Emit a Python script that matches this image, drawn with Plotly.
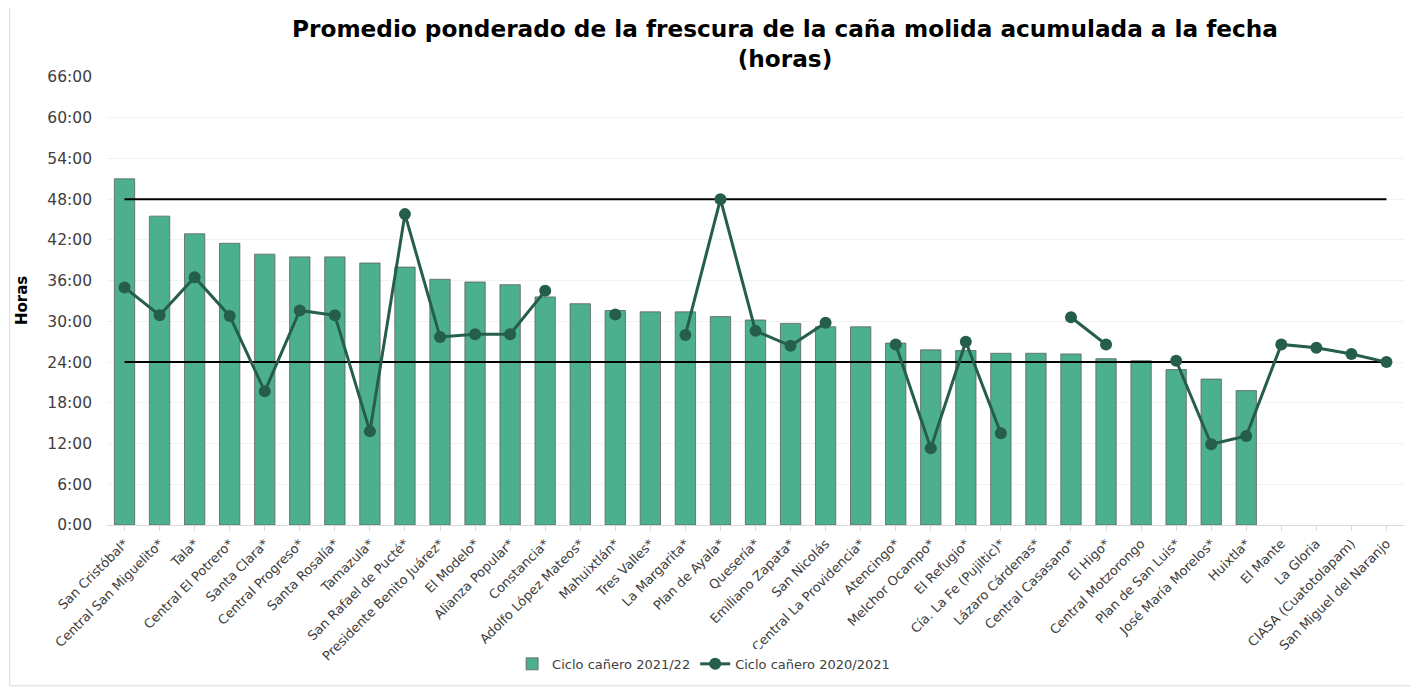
import plotly.graph_objects as go

ingenios = ['San Cristóbal*', 'Central San Miguelito*', 'Tala*', 'Central El Potrero*',
            'Santa Clara*', 'Central Progreso*', 'Santa Rosalía*', 'Tamazula*',
            'San Rafael de Pucté*', 'Presidente Benito Juárez*', 'El Modelo*',
            'Alianza Popular*', 'Constancia*', 'Adolfo López Mateos*', 'Mahuixtlán*',
            'Tres Valles*', 'La Margarita*', 'Plan de Ayala*', 'Quesería*',
            'Emiliano Zapata*', 'San Nicolás', 'Central La Providencia*', 'Atencingo*',
            'Melchor Ocampo*', 'El Refugio*', 'Cía. La Fe (Pujiltic)*', 'Lázaro Cárdenas*',
            'Central Casasano*', 'El Higo*', 'Central Motzorongo', 'Plan de San Luis*',
            'José María Morelos*', 'Huixtla*', 'El Mante', 'La Gloria',
            'CIASA (Cuatotolapam)', 'San Miguel del Naranjo']

# horas, ciclo 2021/22
ciclo_2122 = [51.0, 45.5, 42.9, 41.5, 39.9, 39.5, 39.5, 38.6,
              38.0, 36.2, 35.8, 35.4, 33.6, 32.6, 31.6,
              31.4, 31.4, 30.7, 30.2, 29.7, 29.2, 29.2, 26.8,
              25.8, 25.7, 25.3, 25.3, 25.2, 24.5, 24.2, 22.9,
              21.5, 19.8, None, None, None, None]

# horas, ciclo 2020/2021
ciclo_2021 = [35.0, 30.9, 36.5, 30.8, 19.7, 31.6, 30.9, 13.8,
              45.8, 27.7, 28.1, 28.1, 34.5, None, 31.0,
              None, 28.0, 48.0, 28.6, 26.4, 29.8, None, 26.6,
              11.3, 27.0, 13.5, None, 30.6, 26.6, None, 24.2,
              11.9, 13.1, 26.6, 26.1, 25.2, 24.0]

limite_sup = [48] * len(ingenios)
limite_inf = [24] * len(ingenios)

y_ticks = list(range(0, 67, 6))
y_labels = [f'{h}:00' for h in y_ticks]

verde = '#4CB08F'
verde_osc = '#265E4C'
fuente = 'DejaVu Sans'

fig = go.Figure()
fig.add_trace(go.Bar(x=ingenios, y=ciclo_2122, name='Ciclo cañero 2021/22',
                     marker=dict(color=verde, line=dict(color='#606060', width=0.8))))
fig.add_trace(go.Scatter(x=ingenios, y=limite_sup, mode='lines', showlegend=False,
                         line=dict(color='black', width=2), hoverinfo='skip'))
fig.add_trace(go.Scatter(x=ingenios, y=limite_inf, mode='lines', showlegend=False,
                         line=dict(color='black', width=2), hoverinfo='skip'))
fig.add_trace(go.Scatter(x=ingenios, y=ciclo_2021, name='Ciclo cañero 2020/2021',
                         mode='lines+markers', connectgaps=False,
                         line=dict(color=verde_osc, width=3),
                         marker=dict(color=verde_osc, size=12)))

# la página deja ~8 px de margen propio, se compensa en los márgenes
fig.update_layout(
    width=1418, height=689,
    margin=dict(l=99, r=22, t=69, b=172),
    plot_bgcolor='white', paper_bgcolor='white',
    font=dict(family=fuente, color='#404040'),
    title=dict(text='Promedio ponderado de la frescura de la caña molida acumulada a la fecha<br>(horas)',
               x=777 / 1418, xanchor='center', y=0.958, yanchor='top',
               font=dict(family=fuente, size=23.2, color='black', weight='bold')),
    bargap=0.42,
    showlegend=True,
    legend=dict(orientation='h', x=0.46, xanchor='center', y=-0.31, yanchor='middle',
                font=dict(size=13, color='#404040')),
    shapes=[dict(type='rect', xref='paper', yref='paper',
                 x0=-0.075, x1=1.0054, y0=-0.359, y1=1.16,
                 line=dict(color='#D9D9D9', width=1))],
    annotations=[dict(text='<b>Horas</b>', textangle=-90, xref='paper', yref='paper',
                      x=-0.0655, xanchor='center', y=0.5, showarrow=False,
                      font=dict(size=15, color='black'))],
)
fig.update_xaxes(range=[-0.5, len(ingenios) - 0.5], tickangle=-45,
                 tickfont=dict(size=13, color='#404040'),
                 showline=True, linecolor='#D9D9D9', ticks='outside', ticklen=5,
                 tickcolor='#D9D9D9', showgrid=False, automargin=False)
fig.update_yaxes(range=[0, 66], tickvals=y_ticks, ticktext=y_labels,
                 tickfont=dict(size=15.5, color='#404040'), showgrid=True,
                 gridcolor='#F2F2F2', zeroline=False, ticklabelstandoff=14,
                 automargin=False)

fig.write_html('out.html')
